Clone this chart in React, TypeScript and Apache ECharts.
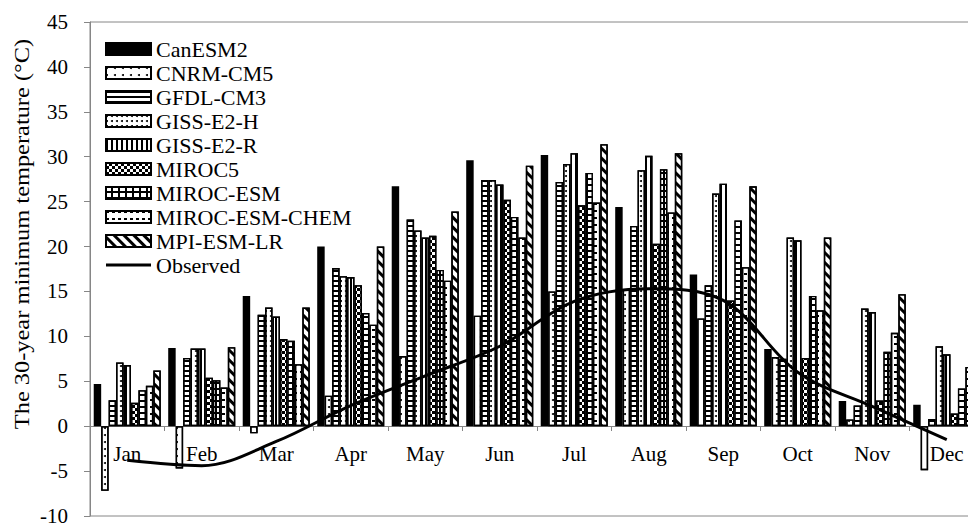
import React, { useEffect, useRef } from "react";
import * as echarts from "echarts";

// Monthly 30-year minimum temperature (°C) for each GCM and the observations
const months = ["Jan", "Feb", "Mar", "Apr", "May", "Jun", "Jul", "Aug", "Sep", "Oct", "Nov", "Dec"];
const canESM2 = [4.7, 8.7, 14.5, 20.0, 26.7, 29.6, 30.2, 24.4, 16.9, 8.6, 2.8, 2.4];
const cnrmCM5 = [-7.2, -4.7, -0.8, 3.4, 7.8, 12.3, 15.0, 15.2, 12.0, 7.7, 0.75, -4.9];
const gfdlCM3 = [2.9, 7.6, 12.4, 17.6, 23.0, 27.4, 27.2, 22.3, 15.7, 7.5, 2.3, 0.8];
const gissE2H = [7.1, 8.65, 13.2, 16.7, 21.8, 27.4, 29.2, 28.5, 25.9, 21.0, 13.1, 8.9];
const gissE2R = [6.8, 8.65, 12.2, 16.6, 21.0, 26.9, 30.4, 30.1, 27.0, 20.7, 12.7, 8.0];
const miroc5 = [2.6, 5.4, 9.7, 15.7, 21.2, 25.2, 24.6, 20.3, 14.0, 7.6, 2.85, 1.4];
const mirocESM = [4.0, 5.1, 9.5, 12.6, 17.4, 23.3, 28.2, 28.6, 22.9, 14.5, 8.3, 4.2];
const mirocESMCHEM = [4.5, 4.3, 6.9, 11.3, 16.2, 21.0, 24.9, 23.8, 17.7, 12.9, 10.4, 6.6];
const mpiESMLR = [6.2, 8.8, 13.2, 20.0, 23.9, 29.0, 31.4, 30.4, 26.7, 21.0, 14.7, 8.9];
const observed = [-3.8, -4.4, -1.7, 2.3, 5.6, 8.9, 13.9, 15.3, 14.0, 6.0, 2.2, -1.5];

const yTicks = { min: -10, max: 45, step: 5 };

const FONT = "Liberation Serif";
const AXIS_GREY = "#868686";

// Hatch styles that tell the models apart in black and white
const black = "#000";
const patterns: Record<string, { fill: string; decal?: any }> = {
  CanESM2: { fill: black },
  "CNRM-CM5": {
    fill: "#fff",
    decal: { symbol: "circle", symbolSize: 1, color: black, dashArrayX: [1.4, 5.6], dashArrayY: [1.4, 5] },
  },
  "GFDL-CM3": {
    fill: "#fff",
    decal: { symbol: "rect", symbolSize: 1, color: black, dashArrayX: [1, 0], dashArrayY: [2, 3] },
  },
  "GISS-E2-H": {
    fill: "#fff",
    decal: { symbol: "circle", symbolSize: 1, color: black, dashArrayX: [1.3, 2.4], dashArrayY: [1.3, 2.4] },
  },
  "GISS-E2-R": {
    fill: "#fff",
    decal: { symbol: "rect", symbolSize: 1, color: black, dashArrayX: [1.2, 2.2], dashArrayY: [1, 0] },
  },
  MIROC5: {
    fill: "#fff",
    decal: { symbol: "rect", symbolSize: 1, color: black, dashArrayX: [[3, 3], [0, 3, 3, 0]], dashArrayY: [3, 0] },
  },
  "MIROC-ESM": {
    fill: black,
    decal: { symbol: "rect", symbolSize: 1, color: "#fff", dashArrayX: [5, 1.2], dashArrayY: [4, 1.2] },
  },
  "MIROC-ESM-CHEM": {
    fill: "#fff",
    decal: { symbol: "rect", symbolSize: 1, color: black, dashArrayX: [3, 3], dashArrayY: [1.3, 5] },
  },
  "MPI-ESM-LR": {
    fill: "#fff",
    decal: { symbol: "rect", symbolSize: 1, color: black, dashArrayX: [1, 0], dashArrayY: [2.4, 3.2], rotation: Math.PI / 4 },
  },
};

const models: [string, number[]][] = [
  ["CanESM2", canESM2],
  ["CNRM-CM5", cnrmCM5],
  ["GFDL-CM3", gfdlCM3],
  ["GISS-E2-H", gissE2H],
  ["GISS-E2-R", gissE2R],
  ["MIROC5", miroc5],
  ["MIROC-ESM", mirocESM],
  ["MIROC-ESM-CHEM", mirocESMCHEM],
  ["MPI-ESM-LR", mpiESMLR],
];

function buildOption() {
  const barSeries = models.map(([name, data]) => {
    const p = patterns[name];
    return {
      name,
      type: "bar",
      data,
      barGap: "0%",
      barCategoryGap: "10%",
      itemStyle: {
        color: p.fill,
        borderColor: black,
        borderWidth: 1.4,
        decal: p.decal,
      },
      emphasis: { disabled: true },
    };
  });

  return {
    animation: false,
    backgroundColor: "#fff",
    textStyle: { fontFamily: FONT, color: black },
    grid: {
      left: 90,
      top: 22,
      width: 894,
      height: 494,
      show: true,
      borderColor: AXIS_GREY,
      borderWidth: 1,
      outerBoundsMode: "none",
      containLabel: false,
    },
    legend: {
      orient: "vertical",
      left: 100,
      top: 33,
      itemWidth: 45,
      itemHeight: 12,
      itemGap: 2,
      textStyle: { fontFamily: FONT, fontSize: 22, color: black, lineHeight: 22 },
      data: [
        ...models.map(([name]) => ({ name, icon: "rect" })),
        { name: "Observed", icon: "path://M0,0H45V3H0Z", itemStyle: { color: black } },
      ],
    },
    xAxis: {
      type: "category",
      data: months,
      position: "bottom",
      // the category axis sits on the 0 °C line, 10 units above the bottom edge
      offset: -90,
      axisLine: { show: true, onZero: false, lineStyle: { color: AXIS_GREY, width: 1 } },
      axisTick: { show: true, alignWithLabel: false, length: 5, lineStyle: { color: AXIS_GREY } },
      axisLabel: { fontFamily: FONT, fontSize: 21, color: black, margin: 17 },
      splitLine: { show: false },
    },
    yAxis: {
      type: "value",
      min: yTicks.min,
      max: yTicks.max,
      interval: yTicks.step,
      axisLine: { show: true, lineStyle: { color: AXIS_GREY, width: 1 } },
      axisTick: { show: true, length: 6, lineStyle: { color: AXIS_GREY } },
      axisLabel: { fontFamily: FONT, fontSize: 21, color: black, margin: 22 },
      splitLine: { show: false },
    },
    graphic: [
      {
        type: "text",
        x: 22,
        y: 234,
        rotation: Math.PI / 2,
        scaleX: 1.22,
        style: {
          text: "The 30-year minimum temperature (°C)",
          fontFamily: FONT,
          fontSize: 20,
          fill: black,
          align: "center",
          verticalAlign: "middle",
        },
      },
    ],
    series: [
      ...barSeries,
      {
        name: "Observed",
        type: "line",
        data: observed,
        smooth: 0.35,
        symbol: "none",
        showSymbol: false,
        z: 10,
        lineStyle: { color: black, width: 3 },
        itemStyle: { color: black },
        emphasis: { disabled: true },
      },
    ],
  };
}

export default function App() {
  const ref = useRef<HTMLDivElement>(null);

  useEffect(() => {
    if (!ref.current) return;
    const chart = echarts.init(ref.current, null, { renderer: "svg" });
    chart.setOption(buildOption() as any);
    return () => chart.dispose();
  }, []);

  return (
    <div
      style={{
        position: "fixed",
        left: 0,
        top: 0,
        width: 968,
        height: 523,
        overflow: "hidden",
        background: "#fff",
      }}
    >
      <div ref={ref} style={{ width: 1000, height: 523 }} />
    </div>
  );
}
